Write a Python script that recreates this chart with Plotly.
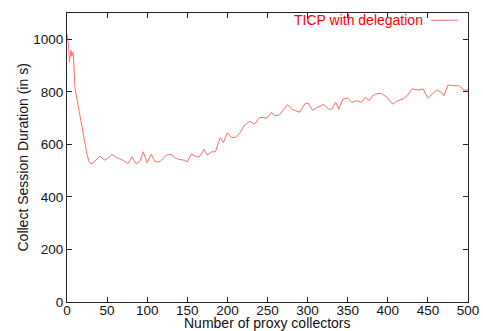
import plotly.graph_objects as go

# Number of proxy collectors vs. collect session duration (seconds)
proxies = [0, 2, 3, 5, 6, 7, 8, 10, 15, 20, 25, 28, 31, 36, 41, 47, 52, 56, 62, 66,
           70, 76, 81, 86, 91, 95, 100, 105, 110, 116, 120, 124, 130, 135, 139, 143,
           147, 150, 155, 162, 166, 171, 175, 180, 185, 191, 195, 200, 205, 210, 216,
           221, 228, 234, 240, 245, 249, 255, 259, 265, 270, 275, 280, 285, 290, 297,
           301, 306, 313, 320, 326, 330, 335, 339, 344, 350, 355, 361, 367, 372, 377,
           380, 385, 392, 399, 406, 411, 419, 424, 430, 438, 444, 450, 455, 461, 466,
           470, 475, 482, 489, 495, 500]
duration = [1020, 975, 913, 958, 935, 951, 944, 812, 730, 645, 560, 530, 526, 540, 555,
            540, 550, 562, 549, 545, 539, 526, 553, 526, 536, 572, 530, 562, 533, 534,
            548, 559, 562, 548, 543, 541, 539, 533, 564, 552, 556, 581, 559, 571, 572,
            625, 607, 645, 626, 626, 645, 673, 688, 677, 702, 702, 700, 721, 709, 713,
            730, 751, 734, 728, 722, 756, 756, 730, 741, 753, 734, 734, 760, 734, 773,
            776, 760, 766, 760, 779, 766, 782, 792, 794, 779, 753, 764, 773, 785, 811,
            807, 811, 776, 790, 807, 800, 785, 826, 823, 823, 807, 807]

series_name = "TICP with delegation"
x_title = "Number of proxy collectors"
y_title = "Collect Session Duration (in s)"
x_ticks = [0, 50, 100, 150, 200, 250, 300, 350, 400, 450, 500]
y_ticks = [0, 200, 400, 600, 800, 1000]

font_family = "Liberation Sans, Arial, Helvetica, sans-serif"
text_color = "#111"
line_color = "rgb(255,110,110)"

fig = go.Figure()
fig.add_trace(go.Scatter(
    x=proxies, y=duration, mode="lines", name=series_name,
    line=dict(color=line_color, width=1), showlegend=False,
))

axis_common = dict(
    showline=True, linecolor="#222", linewidth=1, mirror="allticks",
    ticks="inside", ticklen=5, tickcolor="#222", showgrid=False, zeroline=False,
    automargin=False,
    tickfont=dict(family=font_family, size=13.5, color=text_color),
)

fig.update_xaxes(range=[0, 500], tickvals=x_ticks, ticklabelstandoff=-4,
                 **axis_common)
fig.update_yaxes(range=[0, 1100], tickvals=y_ticks, **axis_common)

# axis titles placed as free text so they sit tight against the tick labels
fig.add_annotation(
    x=0.5, y=0, xref="paper", yref="paper", yshift=-21, xanchor="center",
    yanchor="middle", text=x_title, showarrow=False, borderpad=0,
    font=dict(family=font_family, size=14, color=text_color),
)
fig.add_annotation(
    x=0, y=0.5, xref="paper", yref="paper", xshift=-45, xanchor="center",
    yanchor="middle", text=y_title, textangle=-90, showarrow=False,
    font=dict(family=font_family, size=14, color=text_color),
)

# gnuplot-style key: label followed by a line sample, top right inside the frame
fig.add_annotation(
    x=0.893, y=0.975, xref="paper", yref="paper", xanchor="right", yanchor="middle",
    text=series_name, showarrow=False,
    font=dict(family=font_family, size=14, color="red"),
)
fig.add_shape(
    type="line", xref="paper", yref="paper",
    x0=0.907, x1=0.975, y0=0.975, y1=0.975,
    line=dict(color=line_color, width=1),
)

fig.update_layout(
    width=483, height=331,
    margin=dict(l=67, r=15, t=13, b=29),
    paper_bgcolor="white", plot_bgcolor="white",
    font=dict(family=font_family),
)

fig.write_html("out.html")
